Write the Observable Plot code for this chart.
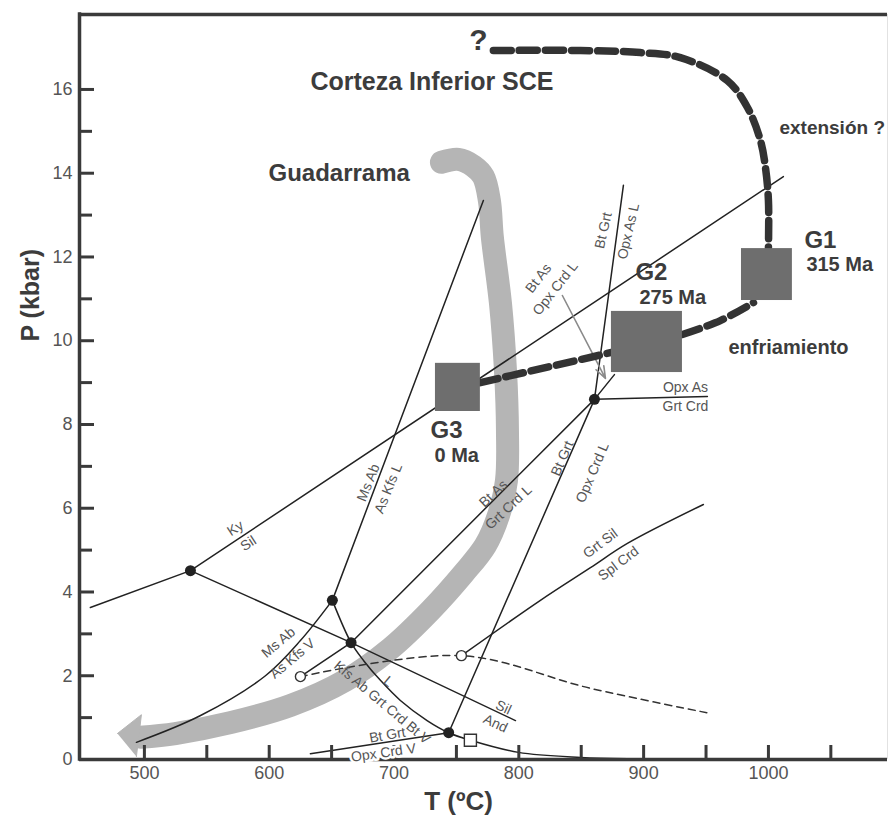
<!DOCTYPE html>
<html><head><meta charset="utf-8">
<script src="https://cdn.jsdelivr.net/npm/d3@7"></script>
<script src="https://cdn.jsdelivr.net/npm/@observablehq/plot@0.6"></script>
<style>html,body{margin:0;padding:0;background:#fff;overflow:hidden}</style>
</head><body><div id="chart"></div>
<script>
// ---- axes ----
const xDomain = [448, 1095.4];
const yDomain = [0, 17.79];
const xTicks = [500, 550, 600, 650, 700, 750, 800, 850, 900, 950, 1000, 1050];
const xTickLabels = ["500", "600", "700", "800", "900", "1000"];
const xTickLabelValues = [500, 600, 700, 800, 900, 1000];
const yMajorTicks = [2, 4, 6, 8, 10, 12, 14, 16];
const yMinorTicks = [1, 3, 5, 7, 9, 11, 13, 15];
const yTickLabels = ["0", "2", "4", "6", "8", "10", "12", "14", "16"];
const yTickLabelValues = [0, 2, 4, 6, 8, 10, 12, 14, 16];

// ---- reaction curves [T (ºC), P (kbar)] ----
const kyAnd = [[456.7, 3.63], [536.9, 4.51]];
const kySil = [[536.9, 4.51], [1012.0, 13.92]];
const silAnd = [[536.9, 4.51], [665.6, 2.79], [797.3, 0.93]];
const msAbKfsV = [[493.6, 0.41], [545, 1.05], [597, 2.0], [625, 2.84], [650.6, 3.80]];
const msAbKfsL = [[650.6, 3.80], [771.6, 13.35]];
const kfsAbBtV = [[650.6, 3.80], [665.6, 2.79], [675.7, 2.36], [689.1, 1.89], [705.1, 1.41], [726.5, 0.93], [743.8, 0.64], [761.2, 0.46], [799.7, 0.17], [849.4, 0.05], [887, 0.02]];
const btGrtOpxCrdV = [[633, 0.14], [743.8, 0.64]];
const btAsGrtCrdL = [[665.6, 2.79], [860.6, 8.60], [876.6, 9.19]];
const btGrtOpxCrdL = [[743.8, 0.64], [860.6, 8.60]];
const btGrtOpxAsL = [[860.6, 8.60], [883.8, 13.71]];
const opxAsGrtCrd = [[860.6, 8.60], [951.1, 8.67]];
const grtSilSplCrd = [[754, 2.48], [817.3, 3.80], [857.4, 4.58], [887, 5.16], [947.9, 6.09]];
const openLink = [[625, 1.98], [665.6, 2.79]];
const dashedThin = [[625, 1.98], [754, 2.48], [857.4, 1.70], [953.5, 1.10]];

const filledPoints = [[536.9, 4.51], [650.6, 3.80], [665.6, 2.79], [743.8, 0.64], [860.6, 8.60]];
const openPoints = [[625, 1.98], [754, 2.48]];
const squarePoints = [[761.2, 0.46]];

const grayArrow = [{x1: 834.9, y1: 11.08, x2: 869.4, y2: 9.10}];

// ---- P-T path Guadarrama ----
const guadarrama = [[738.0, 14.26], [751.6, 14.33], [763.6, 14.17], [771.6, 13.92], [776.4, 13.35], [778.8, 12.47], [785.3, 10.89], [789.3, 9.29], [790.9, 7.86], [790.1, 6.66], [783.7, 5.83], [773.2, 5.11], [755.6, 4.44], [729.2, 3.56], [697.1, 2.65], [661.1, 1.89], [617.0, 1.29], [568.9, 0.88], [524.8, 0.62], [496.8, 0.53]];
const guadarramaHead = [[478.4, 0.62], [497.6, 1.07], [493.6, 0.07]];

// ---- Corteza Inferior path ----
const pathTop = [[779.6, 16.93], [849.4, 16.93], [897.4, 16.88], [929.5, 16.76], [967.1, 16.21], [983.2, 15.57], [993.6, 14.78], [997.6, 14.14], [1000, 13.35], [1000, 12.23]];
const pathG3G2 = [[769.2, 9.0], [874.2, 9.72]];
const pathG2G1 = [[931.1, 10.15], [961.5, 10.48], [988, 10.91]];

const boxes = [
  {name: "G1", T1: 978.4, T2: 1019.2, P1: 10.96, P2: 12.20},
  {name: "G2", T1: 874.2, T2: 931.1, P1: 9.24, P2: 10.70},
  {name: "G3", T1: 733.2, T2: 769.2, P1: 8.31, P2: 9.46}
];

// ---- labels ----
const smallLabels = [
  {t: "Ky", T: 572.9, P: 5.52, a: -33},
  {t: "Sil", T: 583.3, P: 5.16, a: -33},
  {t: "Ms Ab", T: 679.5, P: 6.61, a: -68},
  {t: "As Kfs L", T: 695.5, P: 6.47, a: -68},
  {t: "Ms Ab", T: 607.4, P: 2.79, a: -40},
  {t: "As Kfs V", T: 618.6, P: 2.41, a: -40},
  {t: "Kfs Ab Grt Crd Bt V", T: 690.5, P: 1.36, a: 40},
  {t: "L", T: 695.5, P: 1.86, a: 40},
  {t: "Sil", T: 787.7, P: 1.24, a: 25},
  {t: "And", T: 781.3, P: 0.86, a: 25},
  {t: "Bt Grt", T: 694.7, P: 0.58, a: -10},
  {t: "Bt As", T: 779.6, P: 6.35, a: -43},
  {t: "Grt Crd L", T: 791.7, P: 6.02, a: -43},
  {t: "Bt Grt", T: 834.9, P: 7.19, a: -67},
  {t: "Opx Crd L", T: 859.0, P: 6.85, a: -67},
  {t: "Grt Sil", T: 865.4, P: 5.16, a: -37},
  {t: "Spl Crd", T: 879.8, P: 4.68, a: -37},
  {t: "Bt As", T: 815.7, P: 11.49, a: -52},
  {t: "Opx Crd L", T: 829.3, P: 11.25, a: -52},
  {t: "Bt Grt", T: 867.8, P: 12.63, a: -77},
  {t: "Opx As L", T: 887.8, P: 12.61, a: -77},
  {t: "Opx As", T: 933.5, P: 8.88, a: 0},
  {t: "Grt Crd", T: 933.5, P: 8.43, a: 0}
];
const haloLabels = [{t: "Opx Crd V", T: 691.5, P: 0.16, a: -8}];

const bigLabels = [
  {t: "Corteza Inferior SCE", T: 633.0, P: 16.17, s: 25},
  {t: "Guadarrama", T: 599.4, P: 13.99, s: 24},
  {t: "extensión ?", T: 1008.8, P: 15.09, s: 19},
  {t: "G1", T: 1028.8, P: 12.40, s: 24},
  {t: "315 Ma", T: 1030.4, P: 11.81, s: 20},
  {t: "G2", T: 893.4, P: 11.64, s: 24},
  {t: "275 Ma", T: 896.6, P: 11.03, s: 20},
  {t: "enfriamiento", T: 968.0, P: 9.84, s: 20},
  {t: "G3", T: 729.2, P: 7.86, s: 24},
  {t: "0 Ma", T: 732.4, P: 7.26, s: 20}
];
const questionMark = [{t: "?", T: 767.6, P: 17.17}];

// ---- drawing ----
const W = 890, H = 823, mL = 79, mR = 3, mT = 14, mB = 64;
const plotW = W - mL - mR, plotH = H - mT - mB;
const ink = "#222", axisInk = "#3a3a3a", labelInk = "#555", bigInk = "#3c3c3c";
const lineOpts = {x: d => d[0], y: d => d[1], stroke: ink, strokeWidth: 1.5};
const curveOpts = {...lineOpts, curve: "catmull-rom"};

const chart = Plot.plot({
  width: W, height: H,
  marginLeft: mL, marginRight: mR, marginTop: mT, marginBottom: mB,
  x: {domain: xDomain, axis: null},
  y: {domain: yDomain, axis: null},
  style: {fontFamily: "'Liberation Sans', Arial, sans-serif", background: "#fff"},
  marks: [
    // Guadarrama band
    Plot.line(guadarrama, {x: d => d[0], y: d => d[1], stroke: "#b5b5b5", strokeWidth: 23, curve: "catmull-rom", strokeLinecap: "round", strokeLinejoin: "round"}),
    Plot.line(guadarramaHead, {x: d => d[0], y: d => d[1], fill: "#b5b5b5", stroke: "#b5b5b5", strokeWidth: 1}),
    // reaction lines
    Plot.line(kyAnd, lineOpts),
    Plot.line(kySil, lineOpts),
    Plot.line(silAnd, lineOpts),
    Plot.line(msAbKfsV, curveOpts),
    Plot.line(msAbKfsL, lineOpts),
    Plot.line(kfsAbBtV, curveOpts),
    Plot.line(btGrtOpxCrdV, lineOpts),
    Plot.line(btAsGrtCrdL, lineOpts),
    Plot.line(btGrtOpxCrdL, lineOpts),
    Plot.line(btGrtOpxAsL, lineOpts),
    Plot.line(opxAsGrtCrd, lineOpts),
    Plot.line(grtSilSplCrd, curveOpts),
    Plot.line(openLink, lineOpts),
    Plot.line(dashedThin, {...curveOpts, stroke: "#333", strokeDasharray: "7,5"}),
    Plot.arrow(grayArrow, {x1: "x1", y1: "y1", x2: "x2", y2: "y2", stroke: "#8a8a8a", strokeWidth: 1.6, headLength: 12, headAngle: 40}),
    // thick dashed P-T path
    Plot.line(pathTop, {x: d => d[0], y: d => d[1], stroke: "#333", strokeWidth: 7.5, strokeDasharray: "18,8", curve: "catmull-rom"}),
    Plot.line(pathG3G2, {x: d => d[0], y: d => d[1], stroke: "#333", strokeWidth: 7.5, strokeDasharray: "18,8"}),
    Plot.line(pathG2G1, {x: d => d[0], y: d => d[1], stroke: "#333", strokeWidth: 7.5, strokeDasharray: "18,8", curve: "catmull-rom"}),
    // boxes
    Plot.rect(boxes, {x1: "T1", x2: "T2", y1: "P1", y2: "P2", fill: "#6e6e6e"}),
    // points
    Plot.dot(filledPoints, {x: d => d[0], y: d => d[1], r: 5.5, fill: ink}),
    Plot.dot(openPoints, {x: d => d[0], y: d => d[1], r: 5, fill: "white", stroke: "#333", strokeWidth: 1.4}),
    Plot.dot(squarePoints, {x: d => d[0], y: d => d[1], symbol: "square", r: 6.8, fill: "white", stroke: "#333", strokeWidth: 1.4}),
    // frame
    Plot.ruleX([xDomain[1]], {stroke: "#e2e2e2", strokeWidth: 1}),
    Plot.ruleY([yDomain[1]], {stroke: axisInk, strokeWidth: 3.5}),
    Plot.ruleY([0], {stroke: axisInk, strokeWidth: 3.5}),
    Plot.ruleX([xDomain[0]], {stroke: axisInk, strokeWidth: 3.5, strokeLinecap: "square"}),
    Plot.tickX(xTicks, {x: d => d, stroke: axisInk, strokeWidth: 3, insetTop: plotH - 14}),
    Plot.tickY(yMajorTicks, {y: d => d, stroke: axisInk, strokeWidth: 3, insetRight: plotW - 15}),
    Plot.tickY(yMinorTicks, {y: d => d, stroke: axisInk, strokeWidth: 3, insetRight: plotW - 13}),
    Plot.text(xTickLabels, {x: (d, i) => xTickLabelValues[i], text: d => d, frameAnchor: "bottom", dy: 19, fontSize: 18, fill: labelInk}),
    Plot.text(yTickLabels, {y: (d, i) => yTickLabelValues[i], text: d => d, frameAnchor: "left", dx: -7, textAnchor: "end", fontSize: 18, fill: labelInk}),
    Plot.text(["T (ºC)"], {frameAnchor: "bottom", dx: -25, dy: 50, fontSize: 26, fontWeight: "bold", fill: bigInk}),
    Plot.text(["P (kbar)"], {y: 9.98, frameAnchor: "left", dx: -49, rotate: -90, fontSize: 25, fontWeight: "bold", fill: bigInk}),
    // labels
    Plot.text(haloLabels, {x: "T", y: "P", text: "t", rotate: "a", fontSize: 14, fill: labelInk, stroke: "white", strokeWidth: 5, paintOrder: "stroke"}),
    Plot.text(smallLabels, {x: "T", y: "P", text: "t", rotate: "a", fontSize: 14, fill: labelInk}),
    Plot.text(bigLabels, {x: "T", y: "P", text: "t", fontSize: d => d.s, textAnchor: "start", fontWeight: "bold", fill: bigInk}),
    Plot.text(questionMark, {x: "T", y: "P", text: "t", fontSize: 30, fontWeight: "bold", fill: bigInk})
  ]
});
document.getElementById("chart").appendChild(chart);
</script>
</body></html>
